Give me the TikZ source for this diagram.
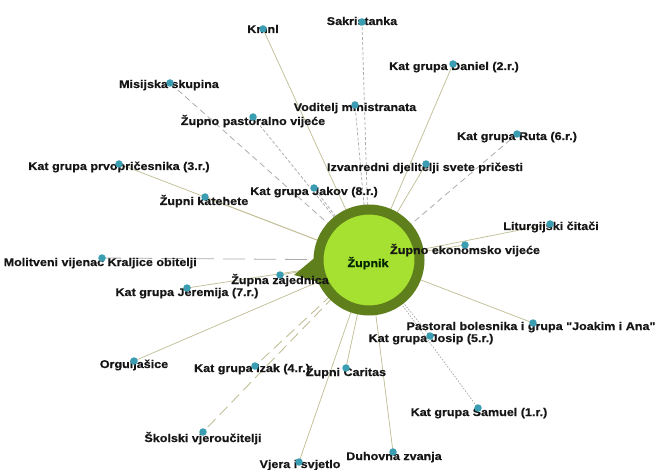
\documentclass[tikz,border=0pt]{standalone}
\usepackage{fontspec}
\newfontfamily\labfont{Liberation Sans}[FakeStretch=1.12,FakeBold=0.6]
\pgfdeclarelayer{bg}
\pgfsetlayers{bg,main}
\definecolor{ringgreen}{HTML}{5E7F1C}
\definecolor{fillgreen}{HTML}{A6E030}
\definecolor{dotteal}{HTML}{3A9DB2}
\definecolor{edgeolive}{HTML}{C2BF98}
\definecolor{edgegray}{HTML}{ABABAB}
\definecolor{labtext}{HTML}{161616}
\tikzset{
  dotnode/.style={circle, fill=dotteal, inner sep=0pt, minimum size=7.5pt},
  lab/.style={anchor=base, inner sep=0pt, text=labtext, font=\labfont\bfseries\fontsize{11.2}{13}\selectfont},
  solidedge/.style={draw=edgeolive, line width=0.75pt},
  finedash/.style={draw=edgegray, line width=0.75pt, dash pattern=on 3pt off 2pt},
  dotedge/.style={draw=edgegray, line width=0.75pt, dash pattern=on 1.5pt off 1.5pt},
  middash/.style={draw=edgegray, line width=0.8pt, dash pattern=on 6pt off 4pt},
  longdash/.style={draw=edgeolive, line width=0.9pt, dash pattern=on 11pt off 6pt},
  longgray/.style={draw=edgegray, line width=0.8pt, dash pattern=on 22pt off 9pt},
}
\begin{document}
\begin{tikzpicture}[x=1pt,y=-1pt]
\useasboundingbox (0,0) rectangle (658,470);
% central node
\node[circle, draw=ringgreen, line width=10pt, fill=fillgreen, minimum size=101pt, inner sep=0pt] (zupnik) at (369,260) {};
\fill[ringgreen] (294,275) -- (318,255) -- (322,283) -- cycle;
\node[lab, text=black!85!green] (zupnik-l) at (368,267) {Župnik};
% labels
\node[lab] (kmnl-l) at (263,33) {Kmnl};
\node[lab] (sak-l) at (362,25) {Sakristanka};
\node[lab] (daniel-l) at (454,70) {Kat grupa Daniel (2.r.)};
\node[lab] (misij-l) at (169,88) {Misijska skupina};
\node[lab] (vodit-l) at (355,111) {Voditelj ministranata};
\node[lab] (zpv-l) at (253,125) {Župno pastoralno vijeće};
\node[lab] (ruta-l) at (517,140) {Kat grupa Ruta (6.r.)};
\node[lab] (prvo-l) at (119,170) {Kat grupa prvopričesnika (3.r.)};
\node[lab] (izv-l) at (425,171) {Izvanredni djelitelji svete pričesti};
\node[lab] (jakov-l) at (314,195) {Kat grupa Jakov (8.r.)};
\node[lab] (katehete-l) at (204,205) {Župni katehete};
\node[lab] (litur-l) at (551,230) {Liturgijski čitači};
\node[lab] (zev-l) at (465,254) {Župno ekonomsko vijeće};
\node[lab, anchor=base east] (molit-l) at (197,266) {Molitveni vijenac Kraljice obitelji};
\node[lab] (zz-l) at (280,284) {Župna zajednica};
\node[lab] (jer-l) at (187,296) {Kat grupa Jeremija (7.r.)};
\node[lab] (pastoral-l) at (531,330) {Pastoral bolesnika i grupa "Joakim i Ana"};
\node[lab] (josip-l) at (431,342) {Kat grupa Josip (5.r.)};
\node[lab] (orgul-l) at (134,368) {Orguljašice};
\node[lab] (izak-l) at (252,372) {Kat grupa Izak (4.r.)};
\node[lab] (caritas-l) at (346,376) {Župni Caritas};
\node[lab] (samuel-l) at (479,416) {Kat grupa Samuel (1.r.)};
\node[lab] (skol-l) at (203,442) {Školski vjeroučitelji};
\node[lab] (vjera-l) at (300,468) {Vjera i svjetlo};
\node[lab] (duh-l) at (394,460) {Duhovna zvanja};
% dots
\node[dotnode] (kmnl) at (263,29) {};
\node[dotnode] (sak) at (362,22) {};
\node[dotnode] (daniel) at (453,64) {};
\node[dotnode] (misij) at (170,83) {};
\node[dotnode] (vodit) at (355,105) {};
\node[dotnode] (zpv) at (253,117) {};
\node[dotnode] (ruta) at (517,134) {};
\node[dotnode] (prvo) at (119,164) {};
\node[dotnode] (izv) at (426,164) {};
\node[dotnode] (jakov) at (314,188) {};
\node[dotnode] (katehete) at (205,197) {};
\node[dotnode] (litur) at (550,224) {};
\node[dotnode] (zev) at (465,245) {};
\node[dotnode] (molit) at (102,258) {};
\node[dotnode] (zz) at (280,275) {};
\node[dotnode] (jer) at (187,288) {};
\node[dotnode] (pastoral) at (533,323) {};
\node[dotnode] (josip) at (430,336) {};
\node[dotnode] (orgul) at (134,361) {};
\node[dotnode] (izak) at (255,366) {};
\node[dotnode] (caritas) at (346,368) {};
\node[dotnode] (samuel) at (478,408) {};
\node[dotnode] (skol) at (203,432) {};
\node[dotnode] (vjera) at (299,462) {};
\node[dotnode] (duh) at (393,452) {};
% edges
\begin{pgfonlayer}{bg}
\draw[solidedge] (zupnik.center) -- (kmnl.center);
\draw[finedash] (zupnik.center) -- (sak.center);
\draw[solidedge] (zupnik.center) -- (daniel.center);
\draw[middash] (zupnik.center) -- (misij.center);
\draw[finedash] (zupnik.center) -- (vodit.center);
\draw[finedash] (zupnik.center) -- (zpv.center);
\draw[middash] (zupnik.center) -- (ruta.center);
\draw[solidedge] (zupnik.center) -- (prvo.center);
\draw[solidedge] (zupnik.center) -- (izv.center);
\draw[finedash] (zupnik.center) -- (jakov.center);
\draw[solidedge] (zupnik.center) -- (katehete.center);
\draw[solidedge] (zupnik.center) -- (litur.center);
\draw[solidedge] (zupnik.center) -- (zev.center);
\draw[longgray] (zupnik.center) -- (molit.center);
\draw[solidedge] (zupnik.center) -- (zz.center);
\draw[solidedge] (zupnik.center) -- (jer.center);
\draw[solidedge] (zupnik.center) -- (pastoral.center);
\draw[dotedge] (zupnik.center) -- (josip.center);
\draw[solidedge] (zupnik.center) -- (orgul.center);
\draw[longdash] (zupnik.center) -- (izak.center);
\draw[solidedge] (zupnik.center) -- (caritas.center);
\draw[dotedge] (zupnik.center) -- (samuel.center);
\draw[longdash] (zupnik.center) -- (skol.center);
\draw[solidedge] (zupnik.center) -- (vjera.center);
\draw[solidedge] (zupnik.center) -- (duh.center);
\end{pgfonlayer}
\end{tikzpicture}
\end{document}
